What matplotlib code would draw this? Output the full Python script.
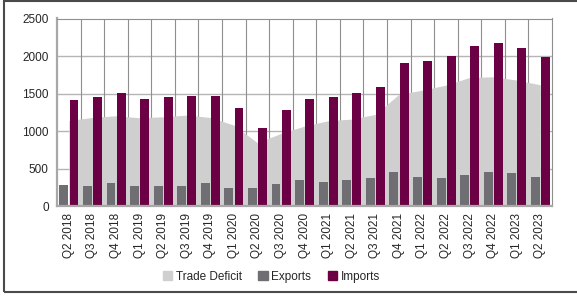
import matplotlib
matplotlib.use("Agg")
import matplotlib.pyplot as plt
import matplotlib.patches as patches
from matplotlib.patches import Patch
import numpy as np

plt.rcParams["font.family"] = ["Liberation Sans", "DejaVu Sans"]

quarters = ["Q2 2018", "Q3 2018", "Q4 2018", "Q1 2019", "Q2 2019", "Q3 2019", "Q4 2019",
            "Q1 2020", "Q2 2020", "Q3 2020", "Q4 2020", "Q1 2021", "Q2 2021", "Q3 2021",
            "Q4 2021", "Q1 2022", "Q2 2022", "Q3 2022", "Q4 2022", "Q1 2023", "Q2 2023"]
exports = [280, 266, 306, 266, 266, 266, 306, 240, 240, 293, 346, 320, 346, 373,
           453, 386, 373, 413, 453, 440, 386]
imports = [1412, 1452, 1505, 1425, 1452, 1465, 1465, 1305, 1043, 1279, 1425, 1452, 1505, 1585,
           1905, 1932, 1998, 2131, 2171, 2105, 1985]
deficit = [1140, 1181, 1203, 1177, 1190, 1212, 1181, 1079, 844, 968, 1066, 1137, 1159, 1221,
           1488, 1545, 1612, 1714, 1723, 1679, 1616]

C_AREA = "#d0cfcf"
C_EXP = "#6f6f73"
C_IMP = "#6b0045"
C_TEXT = "#262626"

fig = plt.figure(figsize=(5.77, 2.96), dpi=100)
ax = fig.add_axes([0.0988, 0.304, 0.858, 0.6335])

x = np.arange(len(quarters))
w = 0.38

ax.fill_between(x, 0, deficit, color=C_AREA, lw=0, zorder=1)
ax.bar(x - 0.02 - w / 2, exports, width=w, color=C_EXP, zorder=2)
ax.bar(x + 0.03 + w / 2, imports, width=w, color=C_IMP, zorder=2)

ax.set_xlim(-0.5, len(quarters) - 0.5)
ax.set_ylim(0, 2500)
ax.set_yticks(range(0, 2501, 500))
ax.set_xticks(x)
ax.set_xticklabels(quarters, rotation=90)

# grid: horizontal at values, vertical at category boundaries
for v in range(500, 2501, 500):
    ax.axhline(v, color="#b5b5b5", lw=1.0, zorder=0)
for b in np.arange(0.5, len(quarters) - 0.5, 1):
    ax.axvline(b, color="#8f8f8f", lw=0.8, zorder=0)

for side in ["left", "bottom"]:
    ax.spines[side].set_color("#a8a8a8")
    ax.spines[side].set_linewidth(1.6)
for side in ["top", "right"]:
    ax.spines[side].set_color("#8f8f8f")
    ax.spines[side].set_linewidth(0.8)

ax.tick_params(axis="both", length=0, labelsize=8.5, colors=C_TEXT)
ax.tick_params(axis="y", pad=6)
ax.tick_params(axis="x", pad=5)

handles = [Patch(color=C_AREA, label="Trade Deficit"),
           Patch(color=C_EXP, label="Exports"),
           Patch(color=C_IMP, label="Imports")]
fig.legend(handles=handles, loc="center", bbox_to_anchor=(0.47, 0.065), ncol=3,
           frameon=False, fontsize=8.5, handlelength=0.8, handleheight=0.8,
           handletextpad=0.3, columnspacing=1.4, labelcolor=C_TEXT)

# outer frame (right side cropped off in the original)
frame = patches.Rectangle((4 / 577, 4 / 296), 1.05, (296 - 5) / 296,
                          transform=fig.transFigure, fill=False,
                          edgecolor="#4a4a4a", lw=1.5, clip_on=False)
fig.patches.append(frame)

fig.savefig("out.png", dpi=100)
